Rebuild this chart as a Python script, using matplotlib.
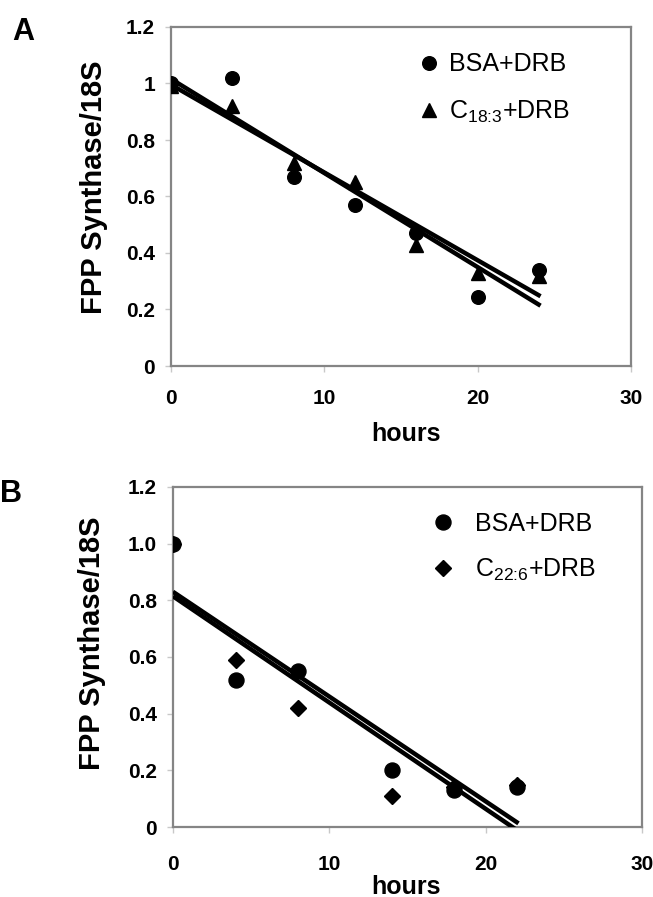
import numpy as np
import matplotlib
matplotlib.use("Agg")
import matplotlib.pyplot as plt

plt.rcParams['font.family'] = ['Liberation Sans', 'DejaVu Sans']
plt.rcParams['mathtext.fontset'] = 'custom'
plt.rcParams['mathtext.rm'] = 'Liberation Sans'

# ---- data panel A ----
hours_a = [0, 4, 8, 12, 16, 20, 24]
bsa_a = [1.00, 1.02, 0.67, 0.57, 0.47, 0.245, 0.34]
c183_a = [0.99, 0.92, 0.72, 0.65, 0.43, 0.33, 0.32]
ylabels_a = ['0', '0.2', '0.4', '0.6', '0.8', '1', '1.2']

# ---- data panel B ----
hours_b = [0, 4, 8, 14, 18, 22]
bsa_b = [1.00, 0.52, 0.55, 0.20, 0.13, 0.14]
c226_b = [1.00, 0.59, 0.42, 0.11, 0.14, 0.15]
ylabels_b = ['0', '0.2', '0.4', '0.6', '0.8', '1.0', '1.2']

xticks = [0, 10, 20, 30]
yticks = [0, 0.2, 0.4, 0.6, 0.8, 1.0, 1.2]

W, H = 653, 897
fig = plt.figure(figsize=(W / 100, H / 100), dpi=100)

def px_axes(l, r, t, b):
    return fig.add_axes([l / W, 1 - b / H, (r - l) / W, (b - t) / H])

ax_a = px_axes(171, 631, 27, 366)
ax_b = px_axes(173, 642, 487, 827)

spine_c = '#858585'
tick_c = '#c8c8c8'

def style(ax, ylabels, xpad):
    ax.set_xlim(0, 30)
    ax.set_ylim(0, 1.2)
    ax.set_xticks(xticks)
    ax.set_yticks(yticks)
    ax.set_yticklabels(ylabels)
    for s in ax.spines.values():
        s.set_color(spine_c)
        s.set_linewidth(1.6)
    ax.tick_params(axis='both', direction='out', length=4.5, width=1.0,
                   color=tick_c, labelsize=15)
    ax.tick_params(axis='y', pad=7)
    ax.tick_params(axis='x', pad=xpad)
    for lab in ax.get_xticklabels() + ax.get_yticklabels():
        lab.set_fontweight('bold')

def fit_line(ax, x, y, x0, x1):
    m, c = np.polyfit(x, y, 1)
    xs = np.array([x0, x1])
    ax.plot(xs, m * xs + c, color='black', lw=3.2, solid_capstyle='butt', zorder=4)

# Panel A
style(ax_a, ylabels_a, 12)
ax_a.plot(hours_a, bsa_a, 'o', color='black', ms=9.8, ls='none', label='BSA+DRB', zorder=3)
ax_a.plot(hours_a, c183_a, '^', color='black', ms=10.5, ls='none',
          label=r'C$_{\text{18:3}}$+DRB', zorder=3)
fit_line(ax_a, hours_a, bsa_a, 0, 24.1)
fit_line(ax_a, hours_a, c183_a, 0, 24.1)
ax_a.legend(loc='upper left', bbox_to_anchor=(0.541, 0.925), frameon=False,
            fontsize=18, handlelength=0.75, handletextpad=0.42, labelspacing=0.88,
            borderpad=0, borderaxespad=0)
ax_a.set_xlabel('hours', fontsize=18, fontweight='bold', va='baseline')
ax_a.xaxis.set_label_coords(0.511, -0.221)
ax_a.set_ylabel('FPP Synthase/18S', fontsize=21, fontweight='bold', va='baseline')
ax_a.yaxis.set_label_coords(-0.149, 0.528)

# Panel B
style(ax_b, ylabels_b, 16)
ax_b.plot(hours_b, bsa_b, 'o', color='black', ms=10.8, ls='none', label='BSA+DRB', zorder=3)
ax_b.plot(hours_b, c226_b, 'D', color='black', ms=8.5, ls='none',
          label=r'C$_{\text{22:6}}$+DRB', zorder=3)
fit_line(ax_b, hours_b, bsa_b, 0, 22.1)
fit_line(ax_b, hours_b, c226_b, 0, 22.1)
ax_b.legend(loc='upper left', bbox_to_anchor=(0.546, 0.927), frameon=False,
            fontsize=18, handlelength=1.15, handletextpad=0.68, labelspacing=0.85,
            borderpad=0, borderaxespad=0)
ax_b.set_xlabel('hours', fontsize=18, fontweight='bold', va='baseline')
ax_b.xaxis.set_label_coords(0.497, -0.196)
ax_b.set_ylabel('FPP Synthase/18S', fontsize=21, fontweight='bold', va='baseline')
ax_b.yaxis.set_label_coords(-0.156, 0.540)

fig.text(12 / W, 1 - 40 / H, 'A', fontsize=22, fontweight='bold', ha='left', va='baseline')
fig.text(0 / W, 1 - 502 / H, 'B', fontsize=22, fontweight='bold', ha='left', va='baseline')

fig.savefig('out.png', dpi=100)
